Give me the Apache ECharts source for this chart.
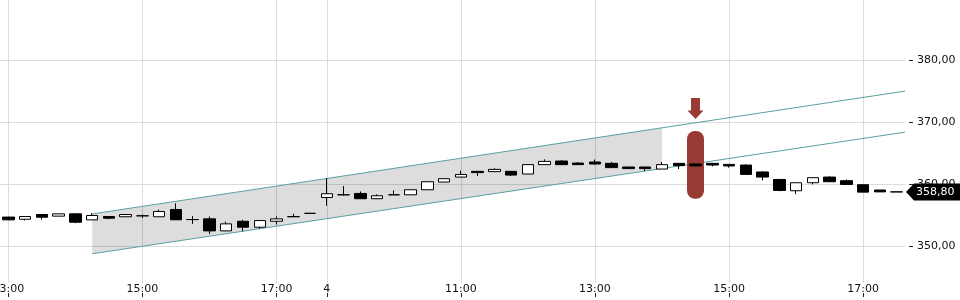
<!DOCTYPE html>
<html>
<head>
<meta charset="utf-8">
<script src="https://cdn.jsdelivr.net/npm/echarts@6/dist/echarts.min.js"></script>
<style>
html,body{margin:0;padding:0;background:#fff;}
#chart{width:960px;height:300px;}
</style>
</head>
<body>
<div id="chart"></div>
<script>
const categories = [
  '3 13:00','3 13:15','3 13:30','3 13:45','3 14:00','3 14:15','3 14:30','3 14:45',
  '3 15:00','3 15:15','3 15:30','3 15:45','3 16:00','3 16:15','3 16:30','3 16:45',
  '3 17:00','3 17:15','3 17:30',
  '4 09:00','4 09:15','4 09:30','4 09:45','4 10:00','4 10:15','4 10:30','4 10:45',
  '4 11:00','4 11:15','4 11:30','4 11:45','4 12:00','4 12:15','4 12:30','4 12:45',
  '4 13:00','4 13:15','4 13:30','4 13:45','4 14:00','4 14:15','4 14:30','4 14:45',
  '4 15:00','4 15:15','4 15:30','4 15:45','4 16:00','4 16:15','4 16:30','4 16:45',
  '4 17:00','4 17:15','4 17:30'
];
const opens  = [354.75,354.40,355.16,354.90,355.27,354.30,354.84,354.80,354.95,354.80,
                355.97,354.35,354.46,352.53,354.08,353.12,354.08,354.80,355.35,357.90,
                358.33,358.55,357.70,358.33,358.33,359.14,360.38,361.18,362.10,362.05,
                362.10,361.67,363.18,363.76,363.43,363.60,363.39,362.80,362.80,362.47,
                363.39,363.30,363.39,363.22,363.11,362.00,360.80,358.98,360.27,361.18,
                360.60,359.95,359.10,358.80];
const closes = [354.30,354.84,354.73,355.27,353.92,355.00,354.56,355.16,354.95,355.65,
                354.31,354.35,352.53,353.66,353.12,354.19,354.46,354.83,355.35,358.50,
                358.33,357.70,358.18,358.33,359.14,360.43,360.92,361.60,361.90,362.42,
                361.50,363.18,363.70,363.18,363.18,363.28,362.70,362.54,362.54,363.18,
                363.02,362.97,363.12,362.97,361.61,361.18,359.03,360.27,361.08,360.43,
                360.00,358.76,358.80,358.80];
const lows   = [354.25,354.20,354.35,354.85,353.76,354.30,354.40,354.75,354.60,354.80,
                354.30,353.66,352.05,352.50,352.47,352.86,353.55,354.80,355.35,356.56,
                358.20,357.70,357.65,358.30,358.30,359.14,360.38,361.15,361.35,362.05,
                361.35,361.67,363.18,363.10,363.15,363.18,362.70,362.50,362.15,362.47,
                362.47,362.95,362.90,362.70,361.61,360.65,358.90,358.44,360.00,360.40,
                360.00,358.76,358.80,358.80];
const highs  = [354.80,354.85,355.16,355.30,355.30,355.37,354.90,355.20,355.15,355.95,
                356.95,354.90,354.84,354.03,354.30,354.20,354.84,355.27,355.35,361.00,
                359.73,358.87,358.40,359.03,359.15,360.43,360.92,362.20,362.10,362.58,
                362.10,363.18,364.03,363.90,363.60,364.00,363.60,362.80,362.80,363.60,
                363.40,363.30,363.40,363.22,363.22,362.15,360.80,360.27,361.08,361.30,
                360.80,359.95,359.10,358.80];

const tickIndex = [0, 8, 16, 19, 27, 35, 43, 51];
const tickText  = ['13:00','15:00','17:00','4','11:00','13:00','15:00','17:00'];
const yTicks = [350, 360, 370, 380];

const channelIdx   = [5, 53];
const channelUpper = [355.25, 374.80];
const channelLower = [348.85, 368.20];
const shadeEndIdx  = 39;

const signalIdx   = 41;
const signalBar   = [357.7, 368.6];
const signalArrow = [370.5, 373.9];

const lastPrice = 358.80;

const candleData = categories.map((_, i) => [opens[i], closes[i], lows[i], highs[i]]);
const fmt = v => v.toFixed(2).replace('.', ',');
const FONT = '"DejaVu Sans", sans-serif';
const isTick = (idx) => tickIndex.indexOf(idx) >= 0;

const chart = echarts.init(document.getElementById('chart'), null, {renderer: 'canvas'});
chart.setOption({
  animation: false,
  backgroundColor: '#fff',
  grid: {left: 0, right: 55, top: 0, bottom: 17, containLabel: false, outerBoundsMode: 'none'},
  xAxis: {
    type: 'category',
    data: categories,
    boundaryGap: true,
    offset: 10,
    axisLine: {show: false},
    axisTick: {show: true, inside: false, length: 4, alignWithLabel: true, interval: isTick,
               lineStyle: {color: '#222', width: 1}},
    axisLabel: {inside: true, margin: -2, interval: isTick, fontSize: 11, fontFamily: FONT, color: '#111',
                hideOverlap: false,
                formatter: (v, idx) => tickText[tickIndex.indexOf(idx)] || ''},
    splitLine: {show: true, interval: isTick, alignWithLabel: true, lineStyle: {color: '#dcdcdc', width: 1}}
  },
  yAxis: {
    type: 'value',
    position: 'right',
    min: 344.15,
    max: 389.65,
    splitNumber: 5,
    offset: 4,
    axisLine: {show: false},
    axisTick: {show: true, length: 4, customValues: yTicks, lineStyle: {color: '#222', width: 1}},
    axisLabel: {margin: 8, fontSize: 11, fontFamily: FONT, color: '#111', customValues: yTicks,
                formatter: v => fmt(v)},
    splitLine: {show: true, lineStyle: {color: '#dcdcdc', width: 1}}
  },
  series: [
    {
      type: 'custom',
      name: 'channel',
      z: 1,
      silent: true,
      data: [[channelIdx[0], channelUpper[0]]],
      renderItem: function (params, api) {
        const cs = params.coordSys;
        const right = cs.x + cs.width;
        const u0 = api.coord([channelIdx[0], channelUpper[0]]);
        const u1 = api.coord([channelIdx[1], channelUpper[1]]);
        const l0 = api.coord([channelIdx[0], channelLower[0]]);
        const l1 = api.coord([channelIdx[1], channelLower[1]]);
        const su = (u1[1] - u0[1]) / (u1[0] - u0[0]);
        const sl = (l1[1] - l0[1]) / (l1[0] - l0[0]);
        const xs = api.coord([shadeEndIdx, channelUpper[0]])[0];
        const uy = x => u0[1] + (x - u0[0]) * su;
        const ly = x => l0[1] + (x - l0[0]) * sl;
        return {
          type: 'group',
          children: [
            {type: 'polygon', shape: {points: [[u0[0], u0[1]], [xs, uy(xs)], [xs, ly(xs)], [l0[0], l0[1]]]},
             style: {fill: 'rgba(0,0,0,0.135)'}},
            {type: 'line', shape: {x1: u0[0], y1: u0[1], x2: right, y2: uy(right)},
             style: {stroke: '#5c9fa3', lineWidth: 1}},
            {type: 'line', shape: {x1: l0[0], y1: l0[1], x2: right, y2: ly(right)},
             style: {stroke: '#5c9fa3', lineWidth: 1}}
          ]
        };
      }
    },
    {
      type: 'custom',
      name: 'signal',
      z: 1.5,
      silent: true,
      data: [[signalIdx, signalBar[1]]],
      renderItem: function (params, api) {
        const top = api.coord([signalIdx, signalBar[1]]);
        const bot = api.coord([signalIdx, signalBar[0]]);
        const tip = api.coord([signalIdx, signalArrow[0]]);
        const st = api.coord([signalIdx, signalArrow[1]]);
        const cx = top[0];
        const w = 17;
        const head = 8.5;
        return {
          type: 'group',
          children: [
            {type: 'rect', shape: {x: cx - w / 2, y: top[1], width: w, height: bot[1] - top[1], r: 8},
             style: {fill: '#9a3a34'}},
            {type: 'polygon', shape: {points: [
              [cx - 4.5, st[1]], [cx + 4.5, st[1]], [cx + 4.5, tip[1] - head], [cx + 8, tip[1] - head],
              [cx, tip[1]], [cx - 8, tip[1] - head], [cx - 4.5, tip[1] - head]
            ]}, style: {fill: '#9a3a34'}}
          ]
        };
      }
    },
    {
      type: 'candlestick',
      name: 'price',
      z: 2,
      barWidth: 12,
      data: candleData,
      itemStyle: {color: '#ffffff', color0: '#000000', borderColor: '#000000', borderColor0: '#000000', borderWidth: 1},
      emphasis: {disabled: true}
    },
    {
      type: 'custom',
      name: 'last',
      z: 10,
      silent: true,
      clip: false,
      data: [[categories.length - 1, lastPrice]],
      renderItem: function (params, api) {
        const cs = params.coordSys;
        const x0 = cs.x + cs.width + 1;
        const y = api.coord([categories.length - 1, lastPrice])[1];
        const h = 8.5;
        return {
          type: 'group',
          children: [
            {type: 'polygon', shape: {points: [[x0, y], [x0 + 8, y - h], [960, y - h], [960, y + h], [x0 + 8, y + h]]},
             style: {fill: '#000'}},
            {type: 'text', x: 916, y: y, style: {text: fmt(lastPrice), fill: '#fff', font: '11px ' + FONT,
             verticalAlign: 'middle', align: 'left'}}
          ]
        };
      }
    }
  ]
});
</script>
</body>
</html>
